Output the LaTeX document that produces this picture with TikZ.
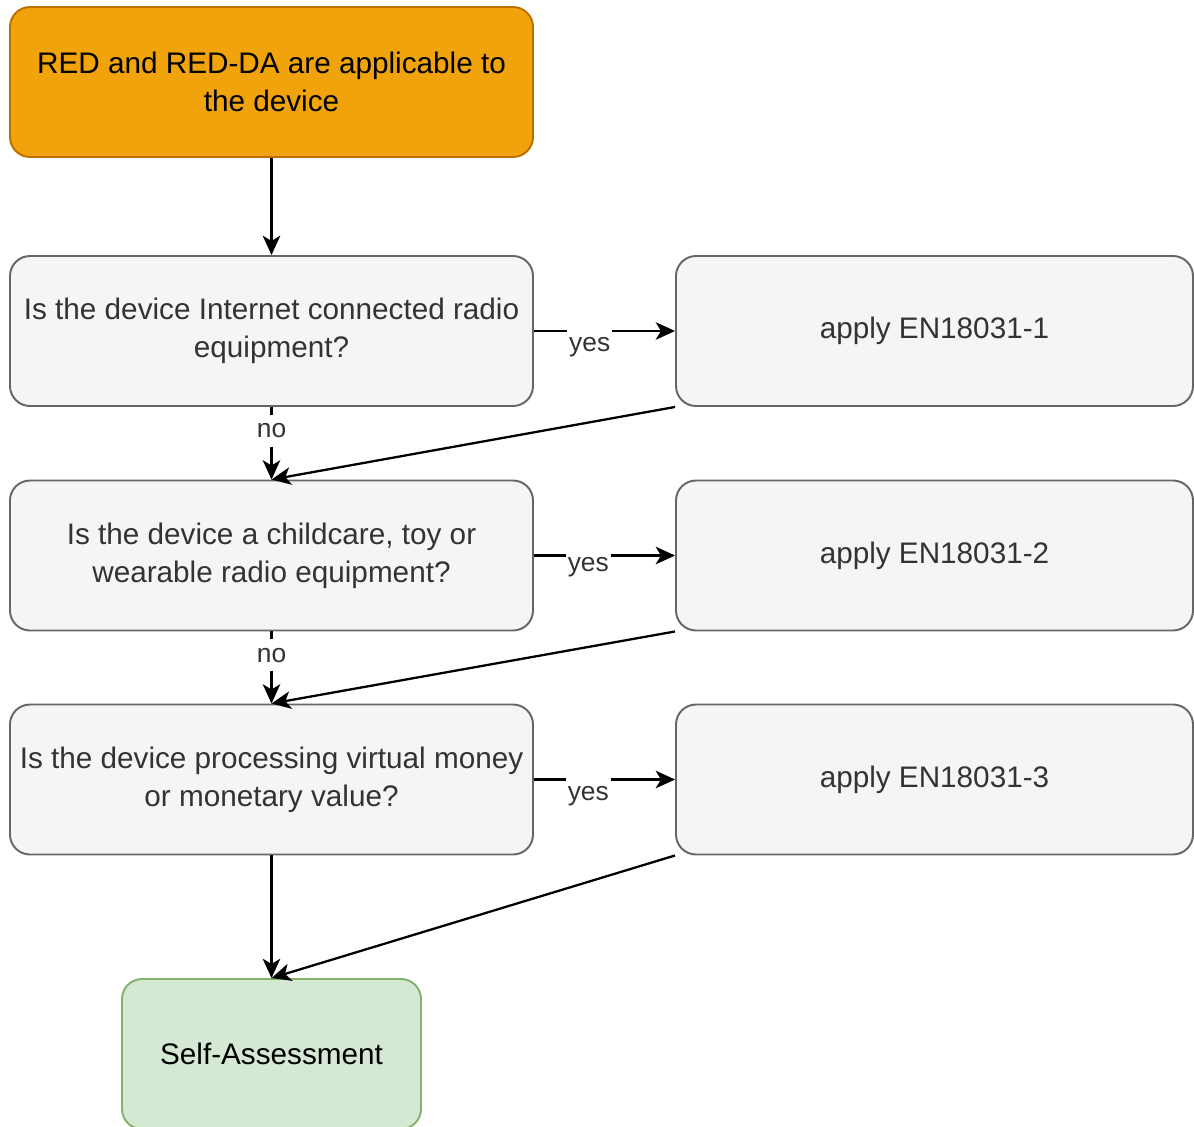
\documentclass[tikz,border=0pt]{standalone}
\usepackage{fontspec}
\setmainfont{Liberation Sans}
\usetikzlibrary{arrows.meta}
\definecolor{orangefill}{HTML}{F0A30A}
\definecolor{orangeline}{HTML}{BD7000}
\definecolor{grayfill}{HTML}{F5F5F5}
\definecolor{grayline}{HTML}{666666}
\definecolor{graytext}{HTML}{333333}
\definecolor{greenfill}{HTML}{D5E8D4}
\definecolor{greenline}{HTML}{82B366}

\begin{document}
\begin{tikzpicture}[
  base/.style={draw, line width=1.1pt, rounded corners=0.4cm, minimum height=3cm,
    minimum width=10.46cm, align=center, inner sep=0pt,
    font=\fontsize{16.9}{21.5}\selectfont},
  start/.style={base, fill=orangefill, draw=orangeline, text=black},
  ques/.style={base, fill=grayfill, draw=grayline, text=graytext},
  ans/.style={ques, minimum width=10.34cm},
  finish/.style={base, fill=greenfill, draw=greenline, text=black, minimum width=5.98cm},
  flow/.style={line width=1.3pt, -{Stealth[length=11pt,width=10pt,inset=3pt]}},
  lbl/.style={fill=white, text=graytext, inner sep=1pt, font=\fontsize{15}{18}\selectfont},
  yeslbl/.style={lbl, anchor=base, text height=13pt, text depth=4pt},
  nolbl/.style={lbl, inner ysep=5pt}
]
  \useasboundingbox (0,0) rectangle (23.88,-22.52);

  \node[start] (start) at (5.43,-1.64) {RED and RED-DA are applicable to\\the device};

  \node[ques] (q1) at (5.43,-6.62) {Is the device Internet connected radio\\equipment?};
  \node[ans] (a1) at (18.69,-6.62) {apply EN18031-1};

  \node[ques] (q2) at (5.43,-11.11) {Is the device a childcare, toy or\\wearable radio equipment?};
  \node[ans] (a2) at (18.69,-11.11) {apply EN18031-2};

  \node[ques] (q3) at (5.43,-15.59) {Is the device processing virtual money\\or monetary value?};
  \node[ans] (a3) at (18.69,-15.59) {apply EN18031-3};

  \node[finish] (sa) at (5.43,-21.08) {Self-Assessment};

  \draw[flow] (start) -- (q1);

  \draw[flow] (q1) -- node[yeslbl, pos=0.395, yshift=-11.9pt] {yes} (a1);
  \draw[flow] (q1) -- node[nolbl, pos=0.33] {no} (q2);
  \draw[flow] (a1.south west) -- (q2.north);

  \draw[flow] (q2) -- node[yeslbl, pos=0.385, yshift=-9.1pt] {yes} (a2);
  \draw[flow] (q2) -- node[nolbl, pos=0.33] {no} (q3);
  \draw[flow] (a2.south west) -- (q3.north);

  \draw[flow] (q3) -- node[yeslbl, pos=0.385, yshift=-11.9pt] {yes} (a3);
  \draw[flow] (q3) -- (sa);
  \draw[flow] (a3.south west) -- (sa.north);
\end{tikzpicture}
\end{document}
